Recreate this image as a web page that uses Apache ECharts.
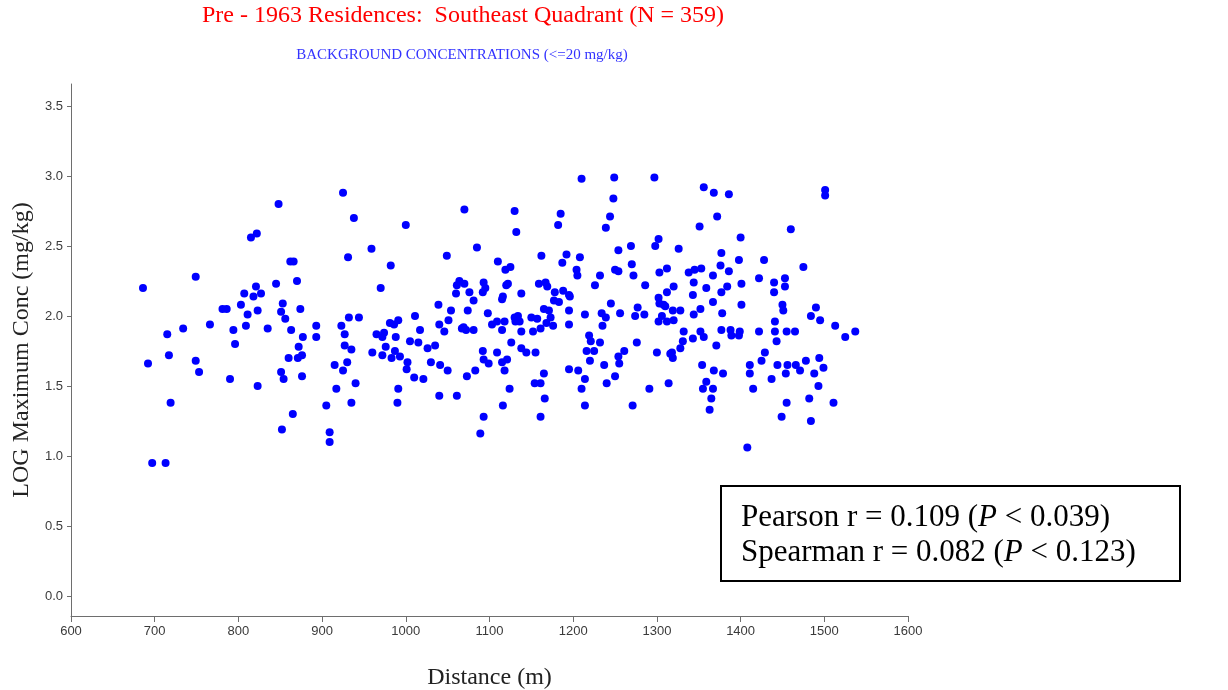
<!DOCTYPE html>
<html><head><meta charset="utf-8">
<script src="https://cdn.jsdelivr.net/npm/echarts@6/dist/echarts.min.js"></script>
<style>html,body{margin:0;padding:0;background:#fff}#c{width:1228px;height:690px}</style>
</head><body><div id="c"></div>
<script>
const titleText = 'Pre - 1963 Residences:  Southeast Quadrant (N = 359)';
const subtitleText = 'BACKGROUND CONCENTRATIONS (<=20 mg/kg)';
const xAxisName = 'Distance (m)';
const yAxisName = 'LOG Maximum Conc (mg/kg)';
const yTickValues = [0, 0.5, 1, 1.5, 2, 2.5, 3, 3.5];
const pearsonText = ['Pearson r = 0.109 (', 'P', ' < 0.039)'];
const spearmanText = ['Spearman r = 0.082 (', 'P', ' < 0.123)'];

const distance = [
848,822,815,862,866,870,845,749,686,821,807,818,827,781,786,803,823,811,853,851,856,874,734,766,715,794,809,835,863,877,893,893,796,872,860,871,876,717,692,749,753,851,854,876,790,823,719,905,865,852,909,909,697,713,
925,938,1000,1070,959,931,982,1049,1085,1110,970,1064,1061,1070,1060,1076,1093,1095,1092,1081,1039,1054,1074,1098,932,944,923,927,981,986,991,1011,1040,1051,1017,1046,1069,1067,1072,1081,1103,1109,965,974,972,988,927,935,960,976,972,983,987,993,1002,1001,1005,1015,1026,1035,1030,1041,1050,1092,1093,1099,1083,1073,915,930,925,940,917,935,991,990,1010,1021,1040,1061,1093,1089,
1210,1249,1297,1248,1130,1185,1182,1244,1239,1132,1302,1298,1269,1254,1162,1192,1208,1119,1125,1187,1204,1205,1250,1254,1270,1272,1303,1312,1232,1226,1286,1120,1122,1138,1159,1167,1169,1178,1188,1195,1177,1183,1196,1116,1115,1312,1245,1302,1303,1308,1310,1165,1171,1195,1214,1234,1239,1256,1277,1274,1285,1118,1130,1134,1136,1131,1150,1157,1168,1173,1176,1161,1195,1235,1302,1306,1312,1115,1138,1152,1126,1138,1144,1109,1155,1219,1221,1232,1216,1225,1220,1261,1254,1255,1276,1300,1316,1115,1121,1118,1195,1206,1237,1165,1154,1161,1214,1250,1240,1314,1124,1166,1210,1291,1116,1214,1271,1161,
1356,1368,1386,1501,1501,1372,1351,1460,1400,1326,1377,1398,1428,1376,1386,1475,1338,1345,1353,1367,1422,1453,1453,1440,1440,1344,1320,1359,1384,1377,1401,1343,1367,1401,1319,1328,1352,1344,1378,1450,1451,1490,1484,1495,1320,1441,1332,1352,1356,1377,1388,1389,1399,1398,1422,1441,1443,1455,1465,1513,1525,1537,1343,1331,1328,1371,1318,1319,1429,1425,1411,1411,1354,1368,1379,1444,1456,1466,1471,1454,1478,1494,1499,1488,1437,1359,1355,1367,1415,1493,1365,1363,1455,1482,1511,1449,1484,1408
];
const logConc = [
2.80,2.59,2.56,2.39,2.39,2.25,2.23,2.28,2.20,2.21,2.16,2.14,2.16,2.05,2.05,2.08,2.04,2.01,2.09,2.03,1.98,2.05,1.91,1.94,1.87,1.90,1.93,1.91,1.90,1.85,1.93,1.85,1.80,1.78,1.70,1.70,1.72,1.72,1.66,1.68,1.60,1.60,1.55,1.57,1.55,1.50,1.38,1.36,1.30,1.19,1.17,1.10,0.95,0.95,
2.88,2.70,2.65,2.76,2.48,2.42,2.36,2.43,2.49,2.39,2.20,2.25,2.22,2.23,2.16,2.17,2.24,2.20,2.17,2.11,2.08,2.04,2.04,2.02,1.99,1.99,1.93,1.87,1.95,1.94,1.97,2.00,1.94,1.97,1.90,1.89,1.92,1.91,1.90,1.90,1.94,1.96,1.87,1.88,1.85,1.85,1.79,1.76,1.74,1.78,1.72,1.70,1.75,1.71,1.67,1.62,1.82,1.81,1.77,1.79,1.67,1.65,1.61,1.75,1.69,1.66,1.61,1.57,1.65,1.67,1.61,1.52,1.48,1.38,1.48,1.38,1.56,1.55,1.43,1.43,1.28,1.16,
2.98,2.99,2.99,2.84,2.75,2.73,2.65,2.71,2.63,2.60,2.55,2.50,2.50,2.47,2.43,2.44,2.42,2.33,2.35,2.38,2.33,2.29,2.33,2.32,2.37,2.29,2.31,2.34,2.29,2.22,2.22,2.22,2.23,2.16,2.23,2.24,2.21,2.17,2.18,2.15,2.11,2.10,2.14,2.14,2.12,2.17,2.09,2.13,2.09,2.08,2.07,2.05,2.04,2.04,2.01,2.02,1.99,2.02,2.06,2.00,2.01,1.96,1.99,2.00,1.96,1.96,1.99,1.98,1.95,1.99,1.93,1.91,1.94,1.93,1.96,2.00,1.96,1.90,1.89,1.89,1.81,1.77,1.74,1.74,1.74,1.86,1.82,1.81,1.75,1.75,1.68,1.75,1.71,1.66,1.81,1.74,1.73,1.67,1.69,1.61,1.62,1.61,1.65,1.59,1.52,1.52,1.55,1.57,1.52,1.52,1.48,1.41,1.48,1.48,1.36,1.36,1.36,1.28,
2.92,2.88,2.87,2.90,2.86,2.71,2.64,2.62,2.56,2.48,2.45,2.40,2.40,2.36,2.32,2.35,2.31,2.33,2.34,2.29,2.27,2.27,2.21,2.24,2.17,2.24,2.21,2.20,2.21,2.17,2.23,2.15,2.10,2.08,2.04,2.04,2.05,2.01,2.02,2.08,2.04,2.06,2.00,1.97,1.97,1.96,1.89,1.89,1.85,1.90,1.90,1.86,1.89,1.86,1.89,1.89,1.82,1.89,1.89,1.93,1.85,1.89,1.84,1.82,1.77,1.79,1.74,1.70,1.74,1.68,1.65,1.59,1.65,1.61,1.59,1.65,1.65,1.65,1.61,1.59,1.68,1.70,1.63,1.59,1.55,1.53,1.48,1.48,1.48,1.50,1.41,1.33,1.38,1.41,1.38,1.28,1.25,1.06
];

const points = distance.map((d, i) => [d, logConc[i]]);
const chart = echarts.init(document.getElementById('c'), null, {renderer: 'canvas'});
const axisColor = '#6e6e6e';
const serif = '"Liberation Serif", "Times New Roman", serif';
const sans = '"Liberation Sans", Arial, sans-serif';
chart.setOption({
  animation: false,
  backgroundColor: '#ffffff',
  grid: {left: 71, right: 320, top: 84, bottom: 74, containLabel: false, outerBoundsMode: 'none'},
  xAxis: {
    type: 'value', min: 600, max: 1600, interval: 100,
    name: xAxisName, nameLocation: 'middle', nameGap: 50,
    nameTextStyle: {fontFamily: serif, fontSize: 24, color: '#222'},
    axisLine: {show: true, onZero: false, lineStyle: {color: axisColor, width: 1}},
    axisTick: {show: true, length: 6, lineStyle: {color: axisColor}},
    axisLabel: {margin: 9, color: '#3a3a3a', fontFamily: sans, fontSize: 13, formatter: v => String(v)},
    splitLine: {show: false}
  },
  yAxis: {
    type: 'value', min: -0.143, max: 3.657,
    name: yAxisName, nameLocation: 'middle', nameGap: 36, nameRotate: 90,
    nameTextStyle: {fontFamily: serif, fontSize: 24, color: '#222'},
    axisLine: {show: true, onZero: false, lineStyle: {color: axisColor, width: 1}},
    axisTick: {show: true, length: 4, customValues: yTickValues, lineStyle: {color: axisColor}},
    axisLabel: {margin: 8, customValues: yTickValues, formatter: v => Number(v).toFixed(1),
      color: '#3a3a3a', fontFamily: sans, fontSize: 13},
    splitLine: {show: false}
  },
  series: [{
    type: 'scatter', data: points, symbol: 'circle', symbolSize: 8,
    itemStyle: {color: '#0000ff', opacity: 1}
  }],
  graphic: [
    {type: 'text', x: 463, y: 16, style: {text: titleText, fill: '#ff0000', font: '24px ' + serif, textAlign: 'center', textVerticalAlign: 'middle'}},
    {type: 'text', x: 462, y: 55, style: {text: subtitleText, fill: '#3333ff', font: '15px ' + serif, textAlign: 'center', textVerticalAlign: 'middle'}},
    {type: 'rect', shape: {x: 721, y: 486, width: 459, height: 95}, style: {fill: '#ffffff', stroke: '#000000', lineWidth: 2}},
    {type: 'text', x: 741, y: 500, style: {
      text: '{n|' + pearsonText[0] + '}{i|' + pearsonText[1] + '}{n|' + pearsonText[2] + '}\n' +
            '{n|' + spearmanText[0] + '}{i|' + spearmanText[1] + '}{n|' + spearmanText[2] + '}',
      rich: {
        n: {fontFamily: serif, fontSize: 31, fill: '#000', lineHeight: 35},
        i: {fontFamily: serif, fontSize: 31, fontStyle: 'italic', fill: '#000', lineHeight: 35}
      }
    }}
  ]
});
</script></body></html>
